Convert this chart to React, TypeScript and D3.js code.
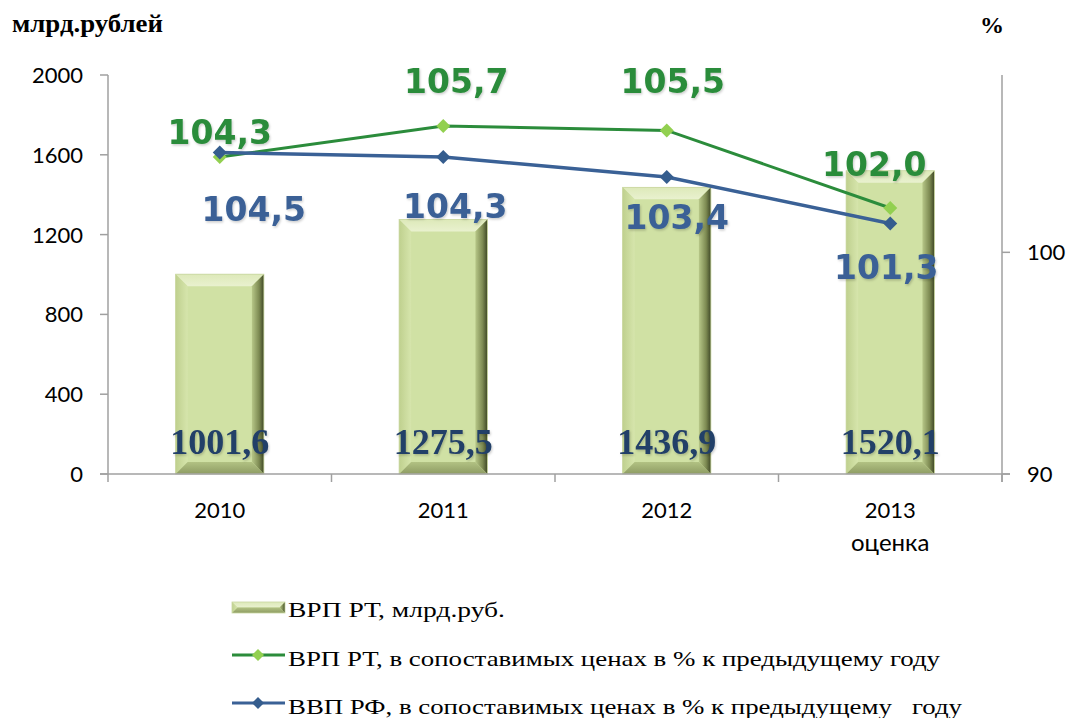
import React from "react";
import * as d3 from "d3";

const categories = ["2010", "2011", "2012", "2013"];
const categorySub = ["", "", "", "оценка"];
const grpValues = [1001.6, 1275.5, 1436.9, 1520.1];
const grpLabels = ["1001,6", "1275,5", "1436,9", "1520,1"];
const rtIndex = [104.3, 105.7, 105.5, 102.0];
const rtLabels = ["104,3", "105,7", "105,5", "102,0"];
const rfIndex = [104.5, 104.3, 103.4, 101.3];
const rfLabels = ["104,5", "104,3", "103,4", "101,3"];
const leftTicks = [0, 400, 800, 1200, 1600, 2000];
const rightTicks = [90, 100];
const legendItems = [
  "ВРП РТ, млрд.руб.",
  "ВРП РТ, в сопоставимых ценах в % к предыдущему году",
  "ВВП РФ, в сопоставимых ценах в % к предыдущему   году",
];

// label offsets (style) relative to points
const rtOff = [[0, -13], [13, -33], [6, -37], [-16, -32]];
const rfOff = [[34, 68], [12, 61], [10, 52], [-4, 55]];
const legendWidths = [217, 652, 674];

const W = 1072, H = 718;
const M = { left: 108, right: 1002, top: 75, bottom: 474 };

const GREEN = "#2B8C3B";
const GREEN_MK = "#92D050";
const BLUE = "#3A6196";
const BLUE_MK = "#355D8E";
const NAVY = "#223F67";
const AXIS = "#A0A0A0";
const SERIF = "'Liberation Serif', 'Times New Roman', serif";

function Bar({ x, y, w, h }: { x: number; y: number; w: number; h: number }) {
  const b = Math.min(12, h / 2);
  return (
    <g>
      <rect x={x} y={y} width={w} height={h} fill="#D0E1A4" />
      <polygon points={`${x},${y} ${x + w},${y} ${x + w - b},${y + b} ${x + b},${y + b}`} fill="url(#bevTop)" />
      <polygon points={`${x},${y} ${x + b},${y + b} ${x + b},${y + h - b} ${x},${y + h}`} fill="url(#bevLeft)" />
      <polygon points={`${x + w},${y} ${x + w},${y + h} ${x + w - b},${y + h - b} ${x + w - b},${y + b}`} fill="url(#bevRight)" />
      <polygon points={`${x},${y + h} ${x + b},${y + h - b} ${x + w - b},${y + h - b} ${x + w},${y + h}`} fill="url(#bevBottom)" />
      <rect x={x} y={y} width={w} height={h} fill="none" stroke="#C9D6A0" strokeWidth={0.8} />
    </g>
  );
}

function Diamond({ cx, cy, r, fill }: { cx: number; cy: number; r: number; fill: string }) {
  return <polygon points={`${cx},${cy - r} ${cx + r},${cy} ${cx},${cy + r} ${cx - r},${cy}`} fill={fill} />;
}

export default function App() {
  const x = d3.scaleBand<string>().domain(categories).range([M.left, M.right]).paddingInner(0).paddingOuter(0);
  const yL = d3.scaleLinear().domain([0, 2000]).range([M.bottom, M.top]);
  const yR = d3.scaleLinear().domain([90, 108]).range([M.bottom, M.top]);
  const bw = x.bandwidth() * 0.395;
  const cx = (c: string) => (x(c) as number) + x.bandwidth() / 2;

  const line = d3.line<number>().x((_, i) => cx(categories[i])).y((d) => yR(d));

  const tickFont = "Lato, 'Open Sans', sans-serif";
  const boundaries = [...categories.map((c) => x(c) as number), M.right];
  const legendY = [617, 666, 714];

  return (
    <svg width={W} height={H} style={{ position: "absolute", left: 0, top: 0, background: "#fff" }}>
      <defs>
        <linearGradient id="bevTop" x1="0" y1="0" x2="0" y2="1">
          <stop offset="0" stopColor="#DDE9B9" />
          <stop offset="1" stopColor="#E9F1CF" />
        </linearGradient>
        <linearGradient id="bevLeft" x1="0" y1="0" x2="1" y2="0">
          <stop offset="0" stopColor="#BFD08E" />
          <stop offset="1" stopColor="#D6E5AC" />
        </linearGradient>
        <linearGradient id="bevRight" x1="0" y1="0" x2="1" y2="0">
          <stop offset="0" stopColor="#B7C788" />
          <stop offset="0.6" stopColor="#7D8A52" />
          <stop offset="1" stopColor="#3E4726" />
        </linearGradient>
        <linearGradient id="bevBottom" x1="0" y1="0" x2="0" y2="1">
          <stop offset="0" stopColor="#B2C283" />
          <stop offset="1" stopColor="#8E9C63" />
        </linearGradient>
        <filter id="shadow" x="-10%" y="-10%" width="120%" height="130%">
          <feDropShadow dx="1" dy="1.5" stdDeviation="1" floodColor="#000" floodOpacity="0.2" />
        </filter>
      </defs>

      {/* axis titles */}
      <text x={12} y={32} fontFamily={SERIF} fontWeight="bold" fontSize={26} fill="#000" textLength={151} lengthAdjust="spacingAndGlyphs">млрд.рублей</text>
      <text x={980} y={33} fontFamily={SERIF} fontWeight="bold" fontSize={24} fill="#000">%</text>

      {/* bars */}
      {grpValues.map((v, i) => {
        const c = categories[i];
        return <Bar key={c} x={cx(c) - bw / 2} y={yL(v)} w={bw} h={M.bottom - yL(v)} />;
      })}

      {/* axes */}
      <line x1={M.left} x2={M.left} y1={M.top} y2={M.bottom} stroke={AXIS} strokeWidth={1.5} />
      <line x1={M.right} x2={M.right} y1={M.top} y2={M.bottom + 8} stroke={AXIS} strokeWidth={1.5} />
      <line x1={M.left - 8} x2={M.right + 8} y1={M.bottom} y2={M.bottom} stroke={AXIS} strokeWidth={1.5} />
      {leftTicks.map((t) => (
        <g key={t}>
          <line x1={M.left - 8} x2={M.left} y1={yL(t)} y2={yL(t)} stroke={AXIS} strokeWidth={1.5} />
          <text x={83} y={yL(t) + 8} textAnchor="end" fontFamily={tickFont} fontSize={22} fill="#000">{t}</text>
        </g>
      ))}
      {rightTicks.map((t) => (
        <g key={t}>
          <line x1={M.right} x2={M.right + 8} y1={yR(t)} y2={yR(t)} stroke={AXIS} strokeWidth={1.5} />
          <text x={1027} y={yR(t) + 8} textAnchor="start" fontFamily={tickFont} fontSize={22} fill="#000">{t}</text>
        </g>
      ))}
      {boundaries.map((b, i) => (
        <line key={i} x1={b} x2={b} y1={M.bottom} y2={M.bottom + 8} stroke={AXIS} strokeWidth={1.5} />
      ))}
      {categories.map((c, i) => (
        <g key={c}>
          <text x={cx(c)} y={518} textAnchor="middle" fontFamily={tickFont} fontSize={22} fill="#000">{c}</text>
          {categorySub[i] && (
            <text x={cx(c)} y={551} textAnchor="middle" fontFamily={tickFont} fontSize={24} fill="#000">{categorySub[i]}</text>
          )}
        </g>
      ))}

      {/* bar labels */}
      {grpLabels.map((l, i) => (
        <text key={i} x={cx(categories[i])} y={454} textAnchor="middle" fontFamily={SERIF} fontWeight="bold" fontSize={36} fill={NAVY} filter="url(#shadow)">{l}</text>
      ))}

      {/* lines */}
      <path d={line(rtIndex) as string} fill="none" stroke={GREEN} strokeWidth={3} />
      {rtIndex.map((v, i) => <Diamond key={i} cx={cx(categories[i])} cy={yR(v)} r={7} fill={GREEN_MK} />)}
      <path d={line(rfIndex) as string} fill="none" stroke={BLUE} strokeWidth={3.5} />
      {rfIndex.map((v, i) => <Diamond key={i} cx={cx(categories[i])} cy={yR(v)} r={7} fill={BLUE_MK} />)}

      {/* line labels */}
      {rtLabels.map((l, i) => (
        <text key={i} x={cx(categories[i]) + rtOff[i][0]} y={yR(rtIndex[i]) + rtOff[i][1]} textAnchor="middle" fontFamily="'DejaVu Sans', sans-serif" fontWeight="bold" fontSize={33} fill={GREEN} filter="url(#shadow)">{l}</text>
      ))}
      {rfLabels.map((l, i) => (
        <text key={i} x={cx(categories[i]) + rfOff[i][0]} y={yR(rfIndex[i]) + rfOff[i][1]} textAnchor="middle" fontFamily="'DejaVu Sans', sans-serif" fontWeight="bold" fontSize={33} fill={BLUE} filter="url(#shadow)">{l}</text>
      ))}

      {/* legend */}
      <g>
        <Bar x={232} y={602} w={53} h={11} />
        <line x1={232} x2={285} y1={655} y2={655} stroke={GREEN} strokeWidth={3} />
        <Diamond cx={258} cy={655} r={6} fill={GREEN_MK} />
        <line x1={232} x2={285} y1={703} y2={703} stroke={BLUE} strokeWidth={3} />
        <Diamond cx={258} cy={703} r={6} fill={BLUE_MK} />
        {legendItems.map((t, i) => (
          <text key={i} x={288} y={legendY[i]} fontFamily={SERIF} fontSize={22} fill="#000" textLength={legendWidths[i]} lengthAdjust="spacingAndGlyphs" style={{ whiteSpace: "pre" }}>{t}</text>
        ))}
      </g>
    </svg>
  );
}
